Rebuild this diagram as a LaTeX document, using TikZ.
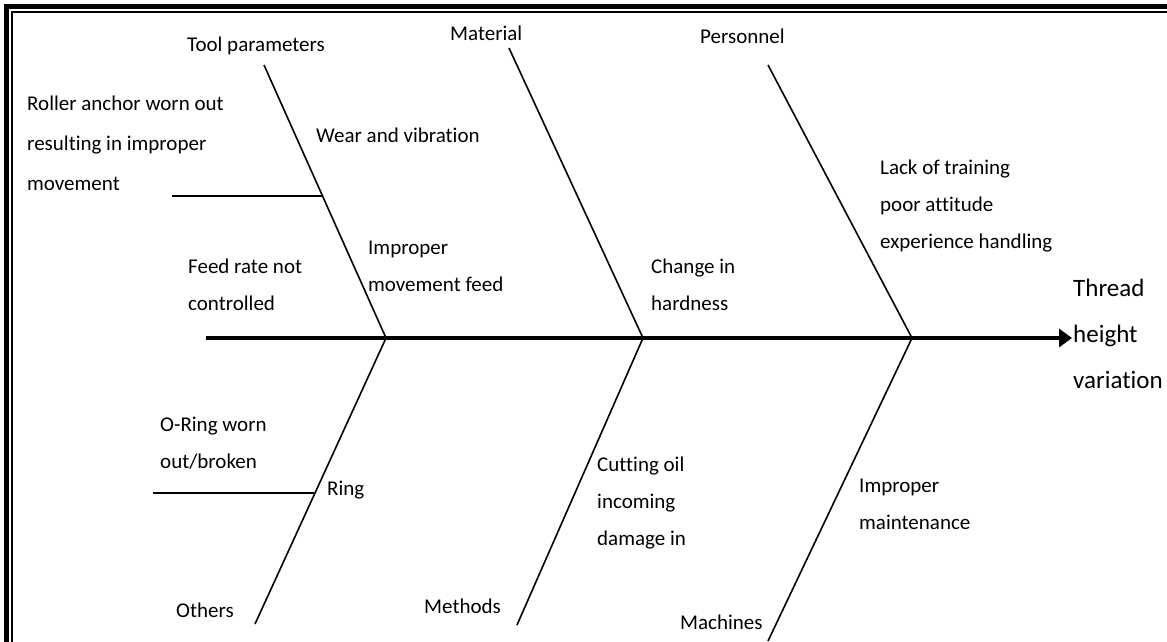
\documentclass[tikz,border=0pt]{standalone}
\usepackage{fontspec}
\setmainfont{Carlito}[Ligatures=NoCommon]
\usetikzlibrary{arrows.meta}
\begin{document}
\begin{tikzpicture}[x=1pt,y=-1pt,
  bone/.style={line width=1.6pt},
  spine/.style={line width=4pt,-{Triangle[length=13pt,width=18pt]}},
  lbl/.style={inner sep=0pt,anchor=west,align=left,font=\fontsize{21}{37}\selectfont},
  headlbl/.style={inner sep=0pt,anchor=west,align=left,font=\fontsize{25}{46}\selectfont}]
\useasboundingbox (0,0) rectangle (1167,641);
\clip (0,0) rectangle (1167,641);
% double frame
\draw[line width=5pt] (6.5,6.5) rectangle (1200,700);
\draw[line width=2pt] (11.5,11.5) rectangle (1200,700);

% spine and junctions
\coordinate (tail) at (206,338);
\coordinate (tip) at (1072,338);
\coordinate (j1) at (386,338);
\coordinate (j2) at (643,338);
\coordinate (j3) at (912,338);
% bone ends
\coordinate (t1) at (264,65);
\coordinate (b1) at (255,624);
\coordinate (t2) at (509,48);
\coordinate (b2) at (517,625);
\coordinate (t3) at (768,65);
\coordinate (b3) at (768,641);
% sub-branches
\coordinate (s1a) at (172,196);
\coordinate (s1b) at (322,196);
\coordinate (s2a) at (153,493);
\coordinate (s2b) at (314,493);

\draw[bone] (t1) -- (j1) -- (b1);
\draw[bone] (t2) -- (j2) -- (b2);
\draw[bone] (t3) -- (j3) -- (b3);
\draw[bone] (s1a) -- (s1b);
\draw[bone] (s2a) -- (s2b);
\draw[spine] (tail) -- (tip);

% labels
\node[lbl] (tool) at (187,46) {Tool parameters};
\node[lbl] (mat) at (450,33) {Material};
\node[lbl] (pers) at (700,36) {Personnel};
\node[lbl,font=\fontsize{21}{40}\selectfont] (roll) at (27,143) {Roller anchor worn out\\resulting in improper\\movement};
\node[lbl] (wear) at (316,135) {Wear and vibration};
\node[lbl] (lack) at (880,206) {Lack of training\\poor attitude\\experience handling};
\node[lbl] (feed) at (188,285) {Feed rate not\\controlled};
\node[lbl] (impm) at (368,266) {Improper\\movement feed};
\node[lbl] (chg) at (651,285) {Change in\\hardness};
\node[headlbl] (thr) at (1073,334) {Thread\\height\\variation};
\node[lbl] (oring) at (160,443) {O-Ring worn\\out/broken};
\node[lbl] (ring) at (327,490) {Ring};
\node[lbl] (cut) at (597,503) {Cutting oil\\incoming\\damage in};
\node[lbl] (impmt) at (859,504) {Improper\\maintenance};
\node[lbl] (oth) at (176,610) {Others};
\node[lbl] (meth) at (424,606) {Methods};
\node[lbl] (mach) at (680,622) {Machines};
\end{tikzpicture}
\end{document}
